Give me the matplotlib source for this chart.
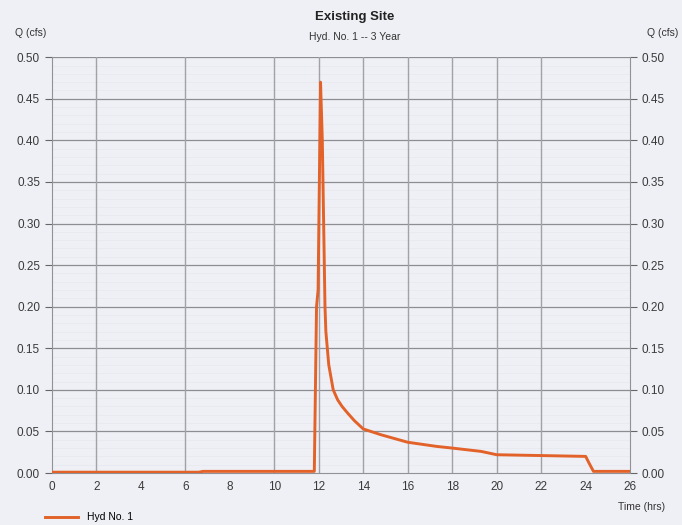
import matplotlib.pyplot as plt
from matplotlib.ticker import MultipleLocator

plt.rcParams['font.family'] = ['Liberation Sans', 'DejaVu Sans']

# hydrograph (hrs, cfs)
time_hrs = [0.0, 6.6, 6.8, 11.80, 11.90, 11.97, 12.08, 12.16, 12.22, 12.28, 12.32,
            12.45, 12.65, 12.85, 13.05, 13.3, 13.6, 14.0, 14.8, 16.0, 17.3,
            18.0, 19.3, 20.0, 22.0, 24.0, 24.15, 24.35, 26.0]
flow_cfs = [0.001, 0.001, 0.002, 0.002, 0.20, 0.22, 0.47, 0.40, 0.30, 0.20, 0.17,
            0.13, 0.100, 0.088, 0.080, 0.072, 0.063, 0.053, 0.046, 0.037, 0.032,
            0.030, 0.026, 0.022, 0.021, 0.020, 0.012, 0.002, 0.002]

x_ticks = list(range(0, 27, 2))
y_ticks = [0.00, 0.05, 0.10, 0.15, 0.20, 0.25, 0.30, 0.35, 0.40, 0.45, 0.50]
vgrid = [2, 6, 10, 12, 14, 16, 18, 20, 22]  # lines visible on the scan

bg = '#eff0f5'
fig = plt.figure(figsize=(6.82, 5.25), dpi=100, facecolor=bg)
ax = fig.add_axes([0.076, 0.099, 0.848, 0.792], facecolor=bg)
ax.set_axisbelow(True)

# faint minor grid
ax.yaxis.set_minor_locator(MultipleLocator(0.01))
ax.grid(which='minor', axis='y', color='#e6e8ee', lw=0.5)
for y in y_ticks[1:]:
    ax.axhline(y, color='#8e8e92', lw=0.9, zorder=1)
for x in vgrid:
    ax.axvline(x, color='#a2a2a6', lw=1.0, zorder=2)

ax.plot(time_hrs, flow_cfs, color='#e2622a', lw=2.1, zorder=3, label='Hyd No. 1')

ax.set_xlim(0, 26)
ax.set_ylim(0, 0.50)
ax.set_xticks(x_ticks)
ax.set_yticks(y_ticks)
ax.set_yticklabels(['%.2f' % v for v in y_ticks])
ax.tick_params(axis='both', which='major', labelsize=8.5, colors='#666666',
               labelcolor='#3a3a3a', length=5, width=0.8)
ax.tick_params(axis='y', which='minor', length=0)
ax.tick_params(axis='y', right=True, labelright=True, direction='out')
ax.tick_params(axis='x', length=0, pad=6)
for s in ax.spines.values():
    s.set_color('#929296')
ax.spines['top'].set_visible(False)

fig.text(0.52, 0.968, 'Existing Site', ha='center', va='center', fontsize=9.5,
         fontweight='bold', color='#222222')
fig.text(0.52, 0.929, 'Hyd. No. 1 -- 3 Year', ha='center', va='center',
         fontsize=7.5, color='#333333')
fig.text(0.045, 0.937, 'Q (cfs)', ha='center', va='center', fontsize=7.5, color='#333333')
fig.text(0.972, 0.937, 'Q (cfs)', ha='center', va='center', fontsize=7.5, color='#333333')
fig.text(0.940, 0.034, 'Time (hrs)', ha='center', va='center', fontsize=7.5, color='#333333')

ax.legend(loc='upper left', bbox_to_anchor=(-0.028, -0.072), frameon=False,
          fontsize=7.5, handlelength=3.2, handletextpad=0.8)

fig.savefig('out.png', dpi=100, facecolor=bg)
